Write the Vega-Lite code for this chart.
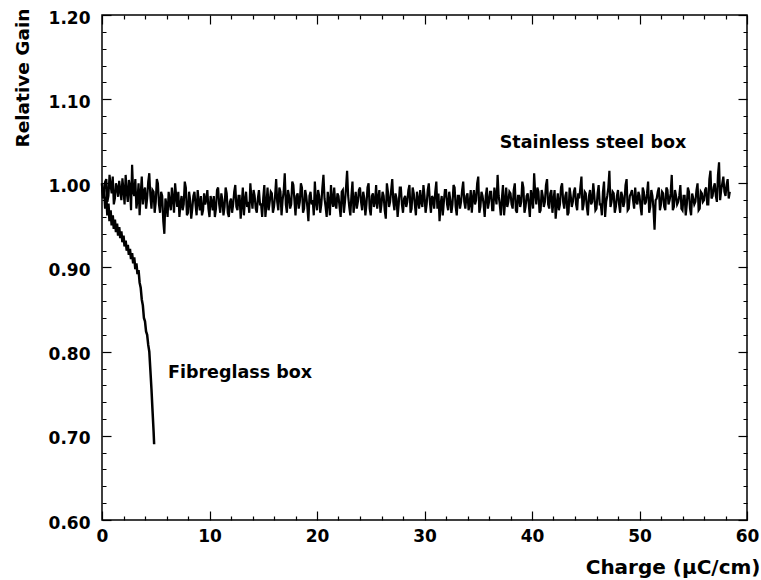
{
  "$schema": "https://vega.github.io/schema/vega-lite/v6.json",
  "width": 645,
  "height": 505,
  "autosize": {"type": "none"},
  "padding": {"left": 102, "top": 15, "right": 14, "bottom": 60},
  "background": "white",
  "config": {
    "view": {"stroke": "black", "strokeWidth": 1.5},
    "axis": {
      "domain": false,
      "offset": -9,
      "ticks": true,
      "tickColor": "black",
      "tickWidth": 1.2,
      "tickSize": 9,
      "grid": false,
      "labelFont": "DejaVu Sans",
      "labelFontWeight": "bold",
      "labelFontSize": 17,
      "labelColor": "black",
      "titleFont": "DejaVu Sans",
      "titleFontWeight": "bold",
      "titleColor": "black"
    }
  },
  "datasets": {
    "steel": [
      {"x":0.0,"y":1.000},{"x":0.2,"y":0.990},{"x":0.4,"y":1.005},{"x":0.6,"y":0.985},{"x":0.8,"y":0.998},{"x":1.0,"y":1.008},{"x":1.2,"y":0.982},{"x":1.4,"y":0.995},{"x":1.6,"y":1.003},{"x":1.8,"y":0.980},
      {"x":2.0,"y":0.992},{"x":2.2,"y":1.010},{"x":2.4,"y":0.978},{"x":2.6,"y":0.996},{"x":2.8,"y":1.022},{"x":3.0,"y":0.985},{"x":3.2,"y":0.970},{"x":3.4,"y":1.000},{"x":3.6,"y":0.988},{"x":3.8,"y":0.975},
      {"x":4.0,"y":0.995},{"x":4.2,"y":0.982},{"x":4.4,"y":1.012},{"x":4.6,"y":0.970},{"x":4.8,"y":0.990},{"x":5.0,"y":0.978},{"x":5.2,"y":1.000},{"x":5.4,"y":0.965},{"x":5.6,"y":0.985},{"x":5.8,"y":0.940},
      {"x":6.0,"y":0.975},{"x":6.2,"y":0.990},{"x":6.4,"y":0.968},{"x":6.6,"y":0.982},{"x":6.8,"y":1.000},{"x":7.0,"y":0.972},{"x":7.2,"y":0.960},{"x":7.4,"y":0.985},{"x":7.6,"y":0.975},{"x":7.8,"y":0.995},
      {"x":8.0,"y":0.965},{"x":8.2,"y":0.980},{"x":8.4,"y":0.970},{"x":8.6,"y":0.990},{"x":8.8,"y":0.962},{"x":9.0,"y":0.978},{"x":9.2,"y":0.985},{"x":9.4,"y":0.968},{"x":9.6,"y":0.975},{"x":9.8,"y":0.992},
      {"x":10.0,"y":0.960},{"x":10.2,"y":0.978},{"x":10.4,"y":0.985},{"x":10.6,"y":0.970},{"x":10.8,"y":0.995},{"x":11.0,"y":0.965},{"x":11.2,"y":0.980},{"x":11.4,"y":0.972},{"x":11.6,"y":0.988},{"x":11.8,"y":0.960},
      {"x":12.0,"y":0.982},{"x":12.2,"y":0.975},{"x":12.4,"y":0.998},{"x":12.6,"y":0.968},{"x":12.8,"y":0.985},{"x":13.0,"y":0.975},{"x":13.2,"y":0.962},{"x":13.4,"y":0.990},{"x":13.6,"y":0.978},{"x":13.8,"y":1.000},
      {"x":14.0,"y":0.970},{"x":14.2,"y":0.985},{"x":14.4,"y":0.965},{"x":14.6,"y":0.992},{"x":14.8,"y":0.975},{"x":15.0,"y":0.983},{"x":15.2,"y":0.960},{"x":15.4,"y":0.995},{"x":15.6,"y":0.978},{"x":15.8,"y":0.988},
      {"x":16.0,"y":0.972},{"x":16.2,"y":1.005},{"x":16.4,"y":0.968},{"x":16.6,"y":0.990},{"x":16.8,"y":0.980},{"x":17.0,"y":1.012},{"x":17.2,"y":0.965},{"x":17.4,"y":0.985},{"x":17.6,"y":0.975},{"x":17.8,"y":0.998},
      {"x":18.0,"y":0.962},{"x":18.2,"y":0.988},{"x":18.4,"y":0.978},{"x":18.6,"y":0.995},{"x":18.8,"y":0.970},{"x":19.0,"y":0.985},{"x":19.2,"y":0.955},{"x":19.4,"y":0.990},{"x":19.6,"y":0.980},{"x":19.8,"y":1.002},
      {"x":20.0,"y":0.968},{"x":20.2,"y":0.985},{"x":20.4,"y":0.975},{"x":20.6,"y":1.010},{"x":20.8,"y":0.972},{"x":21.0,"y":0.990},{"x":21.2,"y":0.962},{"x":21.4,"y":0.980},{"x":21.6,"y":0.995},{"x":21.8,"y":0.970},
      {"x":22.0,"y":0.985},{"x":22.2,"y":0.960},{"x":22.4,"y":0.992},{"x":22.6,"y":0.978},{"x":22.8,"y":1.015},{"x":23.0,"y":0.972},{"x":23.2,"y":0.985},{"x":23.4,"y":0.965},{"x":23.6,"y":0.990},{"x":23.8,"y":0.978},
      {"x":24.0,"y":0.995},{"x":24.2,"y":0.968},{"x":24.4,"y":0.982},{"x":24.6,"y":0.975},{"x":24.8,"y":1.000},{"x":25.0,"y":0.962},{"x":25.2,"y":0.988},{"x":25.4,"y":0.978},{"x":25.6,"y":0.970},{"x":25.8,"y":0.992},
      {"x":26.0,"y":0.975},{"x":26.2,"y":0.985},{"x":26.4,"y":0.958},{"x":26.6,"y":0.990},{"x":26.8,"y":0.978},{"x":27.0,"y":1.005},{"x":27.2,"y":0.968},{"x":27.4,"y":0.982},{"x":27.6,"y":0.975},{"x":27.8,"y":0.995},
      {"x":28.0,"y":0.965},{"x":28.2,"y":0.985},{"x":28.4,"y":0.978},{"x":28.6,"y":0.998},{"x":28.8,"y":0.970},{"x":29.0,"y":0.988},{"x":29.2,"y":0.962},{"x":29.4,"y":0.980},{"x":29.6,"y":0.992},{"x":29.8,"y":0.972},
      {"x":30.0,"y":0.985},{"x":30.2,"y":0.975},{"x":30.4,"y":1.000},{"x":30.6,"y":0.965},{"x":30.8,"y":0.982},{"x":31.0,"y":0.990},{"x":31.2,"y":0.970},{"x":31.4,"y":0.955},{"x":31.6,"y":0.985},{"x":31.8,"y":0.978},
      {"x":32.0,"y":0.992},{"x":32.2,"y":0.968},{"x":32.4,"y":0.980},{"x":32.6,"y":0.975},{"x":32.8,"y":0.995},{"x":33.0,"y":0.962},{"x":33.2,"y":0.985},{"x":33.4,"y":0.978},{"x":33.6,"y":1.002},{"x":33.8,"y":0.970},
      {"x":34.0,"y":0.988},{"x":34.2,"y":0.975},{"x":34.4,"y":0.965},{"x":34.6,"y":0.992},{"x":34.8,"y":0.980},{"x":35.0,"y":1.008},{"x":35.2,"y":0.972},{"x":35.4,"y":0.985},{"x":35.6,"y":0.960},{"x":35.8,"y":0.995},
      {"x":36.0,"y":0.978},{"x":36.2,"y":0.990},{"x":36.4,"y":0.968},{"x":36.6,"y":0.985},{"x":36.8,"y":1.010},{"x":37.0,"y":0.975},{"x":37.2,"y":0.982},{"x":37.4,"y":0.962},{"x":37.6,"y":0.995},{"x":37.8,"y":0.978},
      {"x":38.0,"y":0.988},{"x":38.2,"y":0.970},{"x":38.4,"y":1.000},{"x":38.6,"y":0.965},{"x":38.8,"y":0.985},{"x":39.0,"y":0.978},{"x":39.2,"y":0.995},{"x":39.4,"y":0.972},{"x":39.6,"y":0.988},{"x":39.8,"y":0.960},
      {"x":40.0,"y":0.982},{"x":40.2,"y":1.012},{"x":40.4,"y":0.975},{"x":40.6,"y":0.990},{"x":40.8,"y":0.968},{"x":41.0,"y":0.985},{"x":41.2,"y":0.978},{"x":41.4,"y":1.005},{"x":41.6,"y":0.970},{"x":41.8,"y":0.992},
      {"x":42.0,"y":0.980},{"x":42.2,"y":0.958},{"x":42.4,"y":0.988},{"x":42.6,"y":0.975},{"x":42.8,"y":1.000},{"x":43.0,"y":0.970},{"x":43.2,"y":0.990},{"x":43.4,"y":0.965},{"x":43.6,"y":0.985},{"x":43.8,"y":0.978},
      {"x":44.0,"y":0.995},{"x":44.2,"y":0.968},{"x":44.4,"y":0.982},{"x":44.6,"y":1.008},{"x":44.8,"y":0.975},{"x":45.0,"y":0.988},{"x":45.2,"y":0.962},{"x":45.4,"y":0.992},{"x":45.6,"y":0.978},{"x":45.8,"y":0.985},
      {"x":46.0,"y":0.970},{"x":46.2,"y":0.998},{"x":46.4,"y":0.975},{"x":46.6,"y":0.990},{"x":46.8,"y":0.960},{"x":47.0,"y":0.985},{"x":47.2,"y":1.015},{"x":47.4,"y":0.978},{"x":47.6,"y":0.988},{"x":47.8,"y":0.972},
      {"x":48.0,"y":0.992},{"x":48.2,"y":0.965},{"x":48.4,"y":0.985},{"x":48.6,"y":0.978},{"x":48.8,"y":1.005},{"x":49.0,"y":0.970},{"x":49.2,"y":0.988},{"x":49.4,"y":0.980},{"x":49.6,"y":0.995},{"x":49.8,"y":0.975},
      {"x":50.0,"y":0.985},{"x":50.2,"y":0.962},{"x":50.4,"y":0.990},{"x":50.6,"y":0.978},{"x":50.8,"y":1.002},{"x":51.0,"y":0.972},{"x":51.2,"y":0.985},{"x":51.4,"y":0.945},{"x":51.6,"y":0.982},{"x":51.8,"y":0.995},
      {"x":52.0,"y":0.975},{"x":52.2,"y":0.988},{"x":52.4,"y":0.968},{"x":52.6,"y":0.992},{"x":52.8,"y":0.980},{"x":53.0,"y":1.010},{"x":53.2,"y":0.972},{"x":53.4,"y":0.985},{"x":53.6,"y":0.978},{"x":53.8,"y":0.998},
      {"x":54.0,"y":0.968},{"x":54.2,"y":0.985},{"x":54.4,"y":0.975},{"x":54.6,"y":0.990},{"x":54.8,"y":0.962},{"x":55.0,"y":0.982},{"x":55.2,"y":0.978},{"x":55.4,"y":1.000},{"x":55.6,"y":0.970},{"x":55.8,"y":0.988},
      {"x":56.0,"y":0.980},{"x":56.2,"y":0.995},{"x":56.4,"y":0.975},{"x":56.6,"y":1.015},{"x":56.8,"y":0.985},{"x":57.0,"y":1.000},{"x":57.2,"y":0.978},{"x":57.4,"y":1.025},{"x":57.6,"y":0.992},{"x":57.8,"y":1.008},
      {"x":58.0,"y":0.985},{"x":58.2,"y":1.005},{"x":58.4,"y":0.990},
      {"x":0.1,"y":0.985},{"x":0.3,"y":1.002},{"x":0.5,"y":0.978},{"x":0.7,"y":1.010},{"x":0.9,"y":0.988},{"x":1.1,"y":0.975},{"x":1.3,"y":1.000},{"x":1.5,"y":0.984},{"x":1.7,"y":0.992},{"x":1.9,"y":1.006},
      {"x":2.1,"y":0.975},{"x":2.3,"y":0.990},{"x":2.5,"y":1.004},{"x":2.7,"y":0.968},{"x":2.9,"y":0.990},{"x":3.1,"y":1.005},{"x":3.3,"y":0.980},{"x":3.5,"y":0.962},{"x":3.7,"y":1.008},{"x":3.9,"y":0.990},
      {"x":4.1,"y":0.970},{"x":4.3,"y":1.002},{"x":4.5,"y":0.985},{"x":4.7,"y":0.992},{"x":4.9,"y":0.965},{"x":5.1,"y":1.005},{"x":5.3,"y":0.975},{"x":5.5,"y":0.990},{"x":5.7,"y":0.955},{"x":5.9,"y":0.982},
      {"x":6.1,"y":0.960},{"x":6.3,"y":0.978},{"x":6.5,"y":0.995},{"x":6.7,"y":0.965},{"x":6.9,"y":0.985},{"x":7.1,"y":0.990},{"x":7.3,"y":0.975},{"x":7.5,"y":0.968},{"x":7.7,"y":1.002},{"x":7.9,"y":0.962},
      {"x":8.1,"y":0.990},{"x":8.3,"y":0.958},{"x":8.5,"y":0.985},{"x":8.7,"y":0.975},{"x":8.9,"y":0.992},{"x":9.1,"y":0.968},{"x":9.3,"y":0.962},{"x":9.5,"y":0.988},{"x":9.7,"y":0.980},{"x":9.9,"y":0.970},
      {"x":10.1,"y":0.985},{"x":10.3,"y":0.968},{"x":10.5,"y":0.960},{"x":10.7,"y":0.992},{"x":10.9,"y":0.975},{"x":11.1,"y":0.988},{"x":11.3,"y":0.962},{"x":11.5,"y":0.995},{"x":11.7,"y":0.965},{"x":11.9,"y":0.978},
      {"x":12.1,"y":0.965},{"x":12.3,"y":0.990},{"x":12.5,"y":0.972},{"x":12.7,"y":0.985},{"x":12.9,"y":0.958},{"x":13.1,"y":0.995},{"x":13.3,"y":0.980},{"x":13.5,"y":0.972},{"x":13.7,"y":0.965},{"x":13.9,"y":0.982},
      {"x":14.1,"y":0.992},{"x":14.3,"y":0.970},{"x":14.5,"y":0.982},{"x":14.7,"y":0.975},{"x":14.9,"y":0.960},{"x":15.1,"y":0.998},{"x":15.3,"y":0.975},{"x":15.5,"y":0.968},{"x":15.7,"y":0.990},{"x":15.9,"y":0.965},
      {"x":16.1,"y":0.985},{"x":16.3,"y":0.978},{"x":16.5,"y":0.995},{"x":16.7,"y":0.962},{"x":16.9,"y":0.990},{"x":17.1,"y":0.975},{"x":17.3,"y":0.992},{"x":17.5,"y":0.970},{"x":17.7,"y":1.002},{"x":17.9,"y":0.980},
      {"x":18.1,"y":0.985},{"x":18.3,"y":0.970},{"x":18.5,"y":1.000},{"x":18.7,"y":0.965},{"x":18.9,"y":0.992},{"x":19.1,"y":0.972},{"x":19.3,"y":0.985},{"x":19.5,"y":0.975},{"x":19.7,"y":0.962},{"x":19.9,"y":0.978},
      {"x":20.1,"y":0.992},{"x":20.3,"y":0.965},{"x":20.5,"y":0.995},{"x":20.7,"y":0.982},{"x":20.9,"y":0.960},{"x":21.1,"y":0.978},{"x":21.3,"y":0.998},{"x":21.5,"y":0.972},{"x":21.7,"y":0.975},{"x":21.9,"y":0.988},
      {"x":22.1,"y":0.972},{"x":22.3,"y":0.990},{"x":22.5,"y":0.965},{"x":22.7,"y":0.995},{"x":22.9,"y":0.985},{"x":23.1,"y":0.962},{"x":23.3,"y":1.002},{"x":23.5,"y":0.978},{"x":23.7,"y":0.970},{"x":23.9,"y":0.992},
      {"x":24.1,"y":0.978},{"x":24.3,"y":0.990},{"x":24.5,"y":0.962},{"x":24.7,"y":0.995},{"x":24.9,"y":0.970},{"x":25.1,"y":0.985},{"x":25.3,"y":0.972},{"x":25.5,"y":0.998},{"x":25.7,"y":0.982},{"x":25.9,"y":0.965},
      {"x":26.1,"y":0.990},{"x":26.3,"y":0.968},{"x":26.5,"y":1.000},{"x":26.7,"y":0.972},{"x":26.9,"y":0.992},{"x":27.1,"y":0.978},{"x":27.3,"y":0.988},{"x":27.5,"y":0.960},{"x":27.7,"y":0.995},{"x":27.9,"y":0.975},
      {"x":28.1,"y":0.982},{"x":28.3,"y":0.972},{"x":28.5,"y":0.992},{"x":28.7,"y":0.965},{"x":28.9,"y":0.995},{"x":29.1,"y":0.975},{"x":29.3,"y":0.990},{"x":29.5,"y":0.970},{"x":29.7,"y":0.978},{"x":29.9,"y":0.998},
      {"x":30.1,"y":0.965},{"x":30.3,"y":0.992},{"x":30.5,"y":0.978},{"x":30.7,"y":0.985},{"x":30.9,"y":0.970},{"x":31.1,"y":1.002},{"x":31.3,"y":0.988},{"x":31.5,"y":0.975},{"x":31.7,"y":0.962},{"x":31.9,"y":0.992},
      {"x":32.1,"y":0.975},{"x":32.3,"y":0.990},{"x":32.5,"y":0.965},{"x":32.7,"y":0.998},{"x":32.9,"y":0.972},{"x":33.1,"y":0.985},{"x":33.3,"y":0.970},{"x":33.5,"y":0.992},{"x":33.7,"y":0.978},{"x":33.9,"y":0.985},
      {"x":34.1,"y":0.968},{"x":34.3,"y":0.992},{"x":34.5,"y":0.982},{"x":34.7,"y":0.975},{"x":34.9,"y":1.000},{"x":35.1,"y":0.965},{"x":35.3,"y":0.990},{"x":35.5,"y":0.975},{"x":35.7,"y":0.985},{"x":35.9,"y":0.970},
      {"x":36.1,"y":0.990},{"x":36.3,"y":0.968},{"x":36.5,"y":0.995},{"x":36.7,"y":0.975},{"x":36.9,"y":0.985},{"x":37.1,"y":0.962},{"x":37.3,"y":0.998},{"x":37.5,"y":0.978},{"x":37.7,"y":0.972},{"x":37.9,"y":0.990},
      {"x":38.1,"y":0.975},{"x":38.3,"y":0.992},{"x":38.5,"y":0.968},{"x":38.7,"y":0.985},{"x":38.9,"y":0.972},{"x":39.1,"y":1.002},{"x":39.3,"y":0.965},{"x":39.5,"y":0.985},{"x":39.7,"y":0.975},{"x":39.9,"y":0.992},
      {"x":40.1,"y":0.970},{"x":40.3,"y":0.988},{"x":40.5,"y":0.995},{"x":40.7,"y":0.965},{"x":40.9,"y":0.992},{"x":41.1,"y":0.972},{"x":41.3,"y":0.998},{"x":41.5,"y":0.975},{"x":41.7,"y":0.988},{"x":41.9,"y":0.965},
      {"x":42.1,"y":0.992},{"x":42.3,"y":0.975},{"x":42.5,"y":0.968},{"x":42.7,"y":0.995},{"x":42.9,"y":0.978},{"x":43.1,"y":0.985},{"x":43.3,"y":0.962},{"x":43.5,"y":0.995},{"x":43.7,"y":0.972},{"x":43.9,"y":0.990},
      {"x":44.1,"y":0.975},{"x":44.3,"y":0.988},{"x":44.5,"y":0.995},{"x":44.7,"y":0.968},{"x":44.9,"y":0.990},{"x":45.1,"y":0.972},{"x":45.3,"y":0.985},{"x":45.5,"y":0.975},{"x":45.7,"y":1.000},{"x":45.9,"y":0.968},
      {"x":46.1,"y":0.988},{"x":46.3,"y":0.975},{"x":46.5,"y":0.962},{"x":46.7,"y":1.002},{"x":46.9,"y":0.978},{"x":47.1,"y":0.995},{"x":47.3,"y":0.972},{"x":47.5,"y":0.990},{"x":47.7,"y":0.965},{"x":47.9,"y":0.985},
      {"x":48.1,"y":0.975},{"x":48.3,"y":0.990},{"x":48.5,"y":0.972},{"x":48.7,"y":0.998},{"x":48.9,"y":0.968},{"x":49.1,"y":0.985},{"x":49.3,"y":0.992},{"x":49.5,"y":0.970},{"x":49.7,"y":0.978},{"x":49.9,"y":0.990},
      {"x":50.1,"y":0.972},{"x":50.3,"y":0.995},{"x":50.5,"y":0.975},{"x":50.7,"y":0.988},{"x":50.9,"y":0.965},{"x":51.1,"y":0.992},{"x":51.3,"y":0.970},{"x":51.5,"y":0.980},{"x":51.7,"y":0.990},{"x":51.9,"y":0.968},
      {"x":52.1,"y":0.990},{"x":52.3,"y":0.972},{"x":52.5,"y":0.995},{"x":52.7,"y":0.975},{"x":52.9,"y":0.988},{"x":53.1,"y":0.968},{"x":53.3,"y":0.992},{"x":53.5,"y":0.975},{"x":53.7,"y":0.985},{"x":53.9,"y":0.970},
      {"x":54.1,"y":0.985},{"x":54.3,"y":0.962},{"x":54.5,"y":0.995},{"x":54.7,"y":0.970},{"x":54.9,"y":0.988},{"x":55.1,"y":0.975},{"x":55.3,"y":0.992},{"x":55.5,"y":0.968},{"x":55.7,"y":0.990},{"x":55.9,"y":0.978},
      {"x":56.1,"y":0.992},{"x":56.3,"y":0.975},{"x":56.5,"y":1.005},{"x":56.7,"y":0.982},{"x":56.9,"y":0.995},{"x":57.1,"y":0.985},{"x":57.3,"y":1.010},{"x":57.5,"y":0.980},{"x":57.7,"y":1.000},{"x":57.9,"y":0.990},
      {"x":58.1,"y":0.998},{"x":58.3,"y":0.982}
    ],
    "fibre": [
      {"x":0.0,"y":1.000},{"x":0.1,"y":0.982},{"x":0.2,"y":0.993},{"x":0.3,"y":0.970},{"x":0.4,"y":0.984},{"x":0.5,"y":0.962},{"x":0.6,"y":0.976},{"x":0.7,"y":0.955},{"x":0.8,"y":0.968},{"x":0.9,"y":0.950},
      {"x":1.0,"y":0.962},{"x":1.1,"y":0.946},{"x":1.2,"y":0.957},{"x":1.3,"y":0.942},{"x":1.4,"y":0.952},{"x":1.5,"y":0.938},{"x":1.6,"y":0.948},{"x":1.7,"y":0.935},{"x":1.8,"y":0.943},{"x":1.9,"y":0.930},
      {"x":2.0,"y":0.938},{"x":2.1,"y":0.925},{"x":2.2,"y":0.932},{"x":2.3,"y":0.920},{"x":2.4,"y":0.927},{"x":2.5,"y":0.915},{"x":2.6,"y":0.922},{"x":2.7,"y":0.910},{"x":2.8,"y":0.917},{"x":2.9,"y":0.905},
      {"x":3.0,"y":0.912},{"x":3.1,"y":0.898},{"x":3.2,"y":0.905},{"x":3.3,"y":0.892},{"x":3.4,"y":0.897},{"x":3.5,"y":0.882},{"x":3.6,"y":0.876},{"x":3.7,"y":0.862},{"x":3.8,"y":0.855},{"x":3.9,"y":0.840},
      {"x":4.0,"y":0.836},{"x":4.1,"y":0.824},{"x":4.2,"y":0.820},{"x":4.3,"y":0.808},{"x":4.4,"y":0.800},{"x":4.5,"y":0.778},{"x":4.6,"y":0.756},{"x":4.7,"y":0.730},{"x":4.8,"y":0.705},{"x":4.85,"y":0.690}
    ],
    "labels": [
      {"x":37.0,"y":1.048,"label":"Stainless steel box"},
      {"x":6.14,"y":0.775,"label":"Fibreglass box"}
    ]
  },
  "layer": [
    {
      "data": {"name": "steel"},
      "mark": {"type": "line", "color": "black", "strokeWidth": 2.2},
      "encoding": {
        "x": {
          "field": "x", "type": "quantitative",
          "scale": {"domain": [0, 60], "nice": false, "zero": false},
          "axis": {
            "orient": "bottom",
            "values": [0,2,4,6,8,10,12,14,16,18,20,22,24,26,28,30,32,34,36,38,40,42,44,46,48,50,52,54,56,58,60],
            "labelExpr": "datum.value % 10 === 0 ? datum.label : ''",
            "tickDash": {"condition": {"test": "datum.value % 10 === 0", "value": [9, 1]}, "value": [0, 5, 4, 20]},
            "labelPadding": 8,
            "labelFlush": false,
            "title": "Charge (μC/cm)",
            "titleFontSize": 20,
            "titleAnchor": "end",
            "titleAlign": "right",
            "titleBaseline": "alphabetic",
            "titleX": 658,
            "titleY": 62
          }
        },
        "y": {
          "field": "y", "type": "quantitative",
          "scale": {"domain": [0.6, 1.2], "nice": false, "zero": false},
          "axis": {
            "orient": "left",
            "values": [0.6,0.62,0.64,0.66,0.68,0.7,0.72,0.74,0.76,0.78,0.8,0.82,0.84,0.86,0.88,0.9,0.92,0.94,0.96,0.98,1,1.02,1.04,1.06,1.08,1.1,1.12,1.14,1.16,1.18,1.2],
            "format": ".2f",
            "labelExpr": "abs(datum.value*10 - round(datum.value*10)) < 0.001 ? datum.label : ''",
            "tickDash": {"condition": {"test": "abs(datum.value*10 - round(datum.value*10)) < 0.001", "value": [9, 1]}, "value": [0, 5, 4, 20]},
            "labelPadding": 12,
            "labelOffset": 3,
            "labelFlush": false,
            "title": "Relative Gain",
            "titleFontSize": 18.5,
            "titleAngle": 270,
            "titleAlign": "right",
            "titleAnchor": "end",
            "titleBaseline": "middle",
            "titleX": -89,
            "titleY": -7
          }
        },
        "order": {"field": "x", "type": "quantitative"}
      }
    },
    {
      "data": {"name": "fibre"},
      "mark": {"type": "line", "color": "black", "strokeWidth": 2.5},
      "encoding": {
        "x": {
          "field": "x", "type": "quantitative",
          "scale": {"domain": [0, 60], "nice": false, "zero": false},
          "axis": {
            "orient": "top",
            "values": [0,2,4,6,8,10,12,14,16,18,20,22,24,26,28,30,32,34,36,38,40,42,44,46,48,50,52,54,56,58,60],
            "labels": false,
            "title": null,
            "tickDash": {"condition": {"test": "datum.value % 10 === 0", "value": [9, 1]}, "value": [0, 5, 4, 20]}
          }
        },
        "y": {
          "field": "y", "type": "quantitative",
          "scale": {"domain": [0.6, 1.2], "nice": false, "zero": false},
          "axis": {
            "orient": "right",
            "values": [0.6,0.62,0.64,0.66,0.68,0.7,0.72,0.74,0.76,0.78,0.8,0.82,0.84,0.86,0.88,0.9,0.92,0.94,0.96,0.98,1,1.02,1.04,1.06,1.08,1.1,1.12,1.14,1.16,1.18,1.2],
            "labels": false,
            "title": null,
            "tickDash": {"condition": {"test": "abs(datum.value*10 - round(datum.value*10)) < 0.001", "value": [9, 1]}, "value": [0, 5, 4, 20]}
          }
        }
      }
    },
    {
      "data": {"name": "labels"},
      "mark": {"type": "text", "align": "left", "baseline": "middle", "font": "DejaVu Sans", "fontWeight": "bold", "fontSize": 17.5, "color": "black"},
      "encoding": {
        "x": {"field": "x", "type": "quantitative", "axis": null},
        "y": {"field": "y", "type": "quantitative", "axis": null},
        "text": {"field": "label"}
      }
    }
  ],
  "resolve": {"axis": {"x": "independent", "y": "independent"}}
}
